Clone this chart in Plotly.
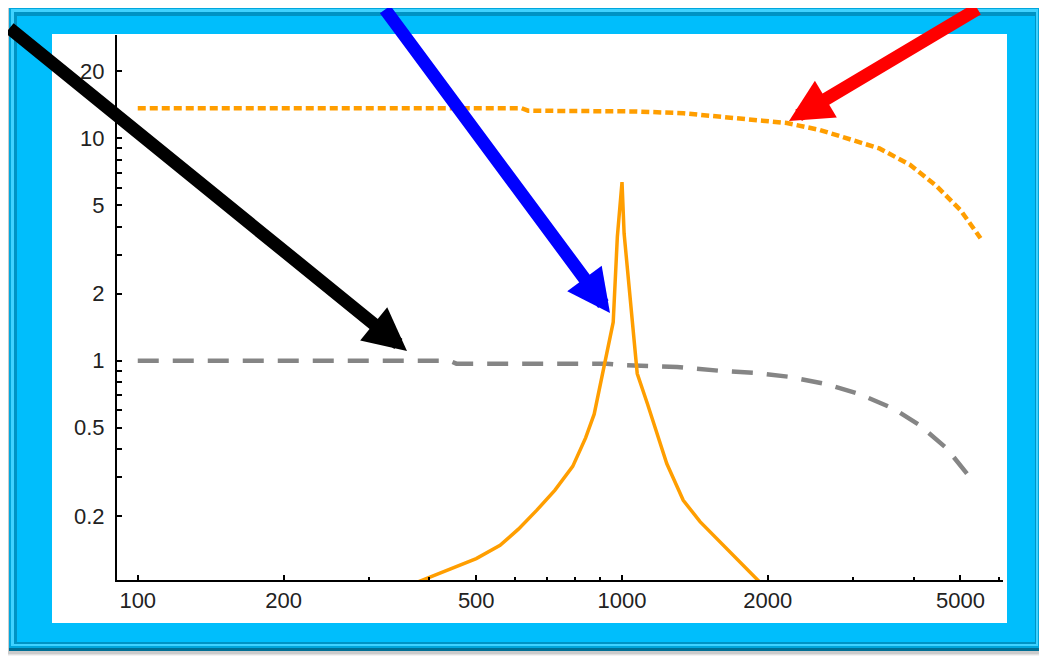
import math
import plotly.graph_objects as go

# ---------------- data ----------------
flat_freq = [100, 620, 640, 1000, 1060, 1340, 1600, 1800, 2190, 2560, 3000, 3400, 3930, 4460, 5000, 5500]
flat_gain = [13.65, 13.65, 13.3, 13.3, 13.2, 12.95, 12.5, 12.2, 11.7, 10.9, 9.85, 9.0, 7.6, 6.1, 4.75, 3.55]

gray_freq = [100, 440, 455, 930, 1000, 1090, 1300, 1600, 1900, 2220, 2650, 3100, 3630, 4120, 4680, 5270]
gray_gain = [1.0, 1.0, 0.97, 0.97, 0.955, 0.951, 0.938, 0.90, 0.88, 0.846, 0.784, 0.707, 0.61, 0.513, 0.404, 0.293]

peak_freq = [316, 500, 560, 611, 667, 727, 791, 841, 876, 906, 959, 978, 1000, 1010,
             1075, 1128, 1179, 1237, 1338, 1449, 2000]
peak_gain = [0.0865, 0.129, 0.148, 0.175, 0.213, 0.262, 0.335, 0.45, 0.575, 0.83, 1.49, 3.6, 6.35, 3.73,
             0.876, 0.642, 0.471, 0.345, 0.236, 0.189, 0.093]

x_ticks = [100, 200, 500, 1000, 2000, 5000]
x_tick_labels = ["100", "200", "500", "1000", "2000", "5000"]
x_minor = [300, 400, 600, 700, 800, 900, 3000, 4000, 6000]
y_ticks = [0.2, 0.5, 1, 2, 5, 10, 20]
y_tick_labels = ["0.2", "0.5", "1", "2", "5", "10", "20"]
y_minor = [0.3, 0.4, 0.6, 0.7, 0.8, 0.9, 3, 4, 6, 7, 8, 9]

# ---------------- layout geometry (page pixels) ----------------
PAGE_W, PAGE_H = 1047, 656
BODY = 8                           # default body margin of the html page
W, H = PAGE_W - BODY, PAGE_H - BODY
L, R, T, B = 117, 1003, 35, 580    # plot area in page pixels


def px(x):
    return (x - L) / (R - L)


def py(y):
    return (B - y) / (B - T)


ORANGE = "#FF9E00"
GRAY = "#858585"
CYAN = "#00BEFC"

fig = go.Figure()
fig.add_trace(go.Scatter(x=flat_freq, y=flat_gain, mode="lines",
                         line=dict(color=ORANGE, width=4.5, dash="8px,4px"), hoverinfo="skip"))
fig.add_trace(go.Scatter(x=gray_freq, y=gray_gain, mode="lines",
                         line=dict(color=GRAY, width=4.5, dash="21px,14px"), hoverinfo="skip"))
fig.add_trace(go.Scatter(x=peak_freq, y=peak_gain, mode="lines",
                         line=dict(color=ORANGE, width=3.5), hoverinfo="skip"))

shapes = []


def rect(x0, y0, x1, y1, color):
    shapes.append(dict(type="rect", xref="paper", yref="paper", layer="below",
                       x0=px(x0), x1=px(x1), y0=py(y1), y1=py(y0),
                       fillcolor=color, line=dict(width=0)))


# drop shadow around the frame
rect(0, 0, 1047, 656, "rgba(0,0,0,0.05)")
rect(3, 3, 1046, 655, "rgba(0,0,0,0.07)")
rect(5, 5, 1045, 654, "rgba(0,0,0,0.09)")
# cyan frame with bevel
rect(9, 7, 1043, 651, "#006F94")
rect(9, 7, 1040, 648, "#00A6DC")
rect(11, 9, 1038, 646, "#3FD2FF")
rect(14, 12, 1036, 644, "#0093C4")
rect(17, 16, 1035, 642, CYAN)
# white panel
rect(52, 34, 1007, 623, "#FFFFFF")

fig.update_layout(shapes=shapes)

# arrows: tip position (page px) and tail offset (px)
arrows = [
    (407, 351, -399, -324, "#000000"),
    (610, 313, -226, -305, "#0000FF"),
    (789, 121, 190, -113, "#FF0000"),
]
for tx, ty, ax, ay, col in arrows:
    fig.add_annotation(xref="paper", yref="paper", x=px(tx), y=py(ty), text="",
                       showarrow=True, ax=ax, ay=ay, arrowcolor=col, arrowwidth=13,
                       arrowhead=2, arrowsize=0.66, standoff=0)

axis_font = dict(family="Liberation Sans, Arial, sans-serif", size=22, color="#222222")

fig.update_xaxes(type="log", range=[math.log10(90.6), math.log10(6120)],
                 showline=True, linecolor="#000000", linewidth=2,
                 showgrid=False, zeroline=False,
                 tickmode="array", tickvals=x_ticks, ticktext=x_tick_labels,
                 ticks="inside", ticklen=5, tickwidth=2, tickcolor="#000000",
                 tickfont=axis_font,
                 minor=dict(tickmode="array", tickvals=x_minor, ticks="inside",
                            ticklen=3, tickwidth=2, tickcolor="#000000", showgrid=False))
fig.update_yaxes(type="log", range=[-0.9856, 1.464],
                 showline=True, linecolor="#000000", linewidth=2,
                 showgrid=False, zeroline=False,
                 tickmode="array", tickvals=y_ticks,
                 ticktext=[t + "\u00a0" for t in y_tick_labels],
                 ticks="inside", ticklen=5, tickwidth=2, tickcolor="#000000",
                 tickfont=axis_font,
                 minor=dict(tickmode="array", tickvals=y_minor, ticks="inside",
                            ticklen=5, tickwidth=2, tickcolor="#000000", showgrid=False))

fig.update_layout(width=W, height=H,
                  margin=dict(l=L - BODY, r=PAGE_W - R, t=T - BODY, b=PAGE_H - B),
                  paper_bgcolor="#FFFFFF", plot_bgcolor="rgba(0,0,0,0)",
                  showlegend=False)

fig.write_html("out.html")
